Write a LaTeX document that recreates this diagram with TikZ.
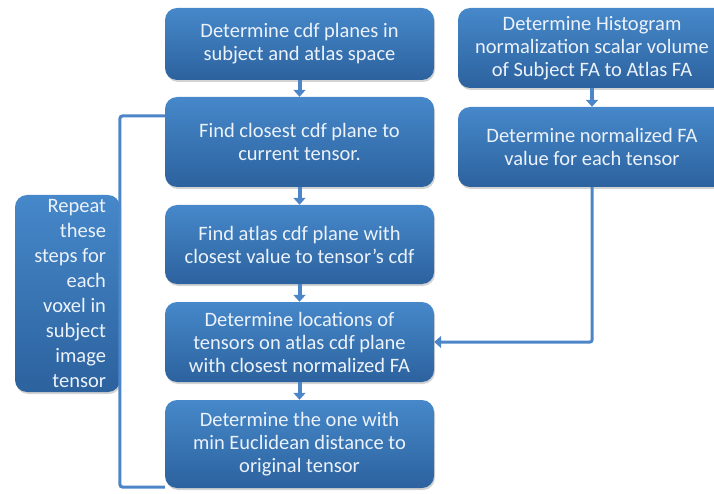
\documentclass[tikz,border=0pt]{standalone}
\usepackage{fontspec}
\setmainfont{Carlito}
\usetikzlibrary{arrows.meta,shadows}
\definecolor{boxtop}{RGB}{70,136,202}
\definecolor{boxbot}{RGB}{44,98,158}
\definecolor{linkblue}{RGB}{76,134,200}
\definecolor{boxtext}{RGB}{236,242,250}
\begin{document}
\begin{tikzpicture}[x=1pt,y=-1pt,>={Triangle[width=12pt,length=7pt]},
  stepbox/.style={rounded corners=12pt,top color=boxtop,bottom color=boxbot,
    draw=none,text=boxtext,align=center,font=\fontsize{20.5}{23}\selectfont,
    minimum width=269pt,inner sep=0pt,
    drop shadow={shadow xshift=1pt,shadow yshift=-2pt,opacity=0.35,fill=gray}},
  link/.style={->,linkblue,line width=4pt},
  bracket/.style={linkblue,line width=3pt,rounded corners=3pt}]
  \useasboundingbox (0,0) rectangle (714,494);
  \clip (0,0) rectangle (714,494);
  % main column
  \node[stepbox,minimum height=72pt] (b1) at (299.5,44) {Determine cdf planes in\\subject and atlas space};
  \node[stepbox,minimum height=90pt] (b2) at (299.5,142) {Find closest cdf plane to\\current tensor.};
  \node[stepbox,minimum height=79pt] (b3) at (299.5,244.5) {Find atlas cdf plane with\\closest value to tensor’s cdf};
  \node[stepbox,minimum height=80pt] (b4) at (299.5,342) {Determine locations of\\tensors on atlas cdf plane\\with closest normalized FA};
  \node[stepbox,minimum height=88pt] (b5) at (299.5,444) {Determine the one with\\min Euclidean distance to\\original tensor};
  % right column
  \node[stepbox,minimum height=80pt,minimum width=268pt] (hist) at (592,48) {Determine Histogram\\normalization scalar volume\\of Subject FA to Atlas FA};
  \node[stepbox,minimum height=80pt,minimum width=268pt] (norm) at (592,147) {Determine normalized FA\\value for each tensor};
  % repeat box
  \node[stepbox,minimum height=197pt,minimum width=105pt,text width=77pt,align=flush right,
    font=\fontsize{20.5}{25}\selectfont] (rep) at (67.5,293.5)
    {Repeat\\these\\steps for\\each\\voxel in\\subject\\image\\tensor};
  % connectors
  \draw[link] (b1) -- (b2);
  \draw[link] (b2) -- (b3);
  \draw[link] (b3) -- (b4);
  \draw[link] (b4) -- (b5);
  \draw[link] (hist) -- (norm);
  \draw[link,line width=3pt,rounded corners=2pt] (norm.south) |- (b4.east);
  \draw[bracket] ([yshift=-19pt]b2.north west) -- ++(-45,0) |- ([yshift=1pt]b5.south west);
\end{tikzpicture}
\end{document}
